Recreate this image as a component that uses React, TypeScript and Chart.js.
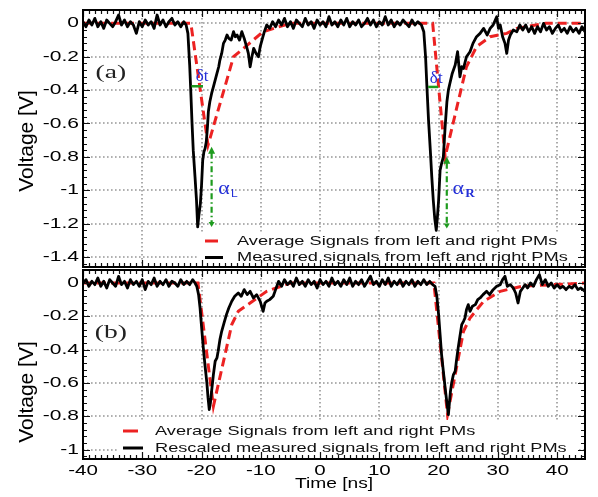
import React, { useEffect, useRef } from "react";
import { Chart, registerables } from "chart.js";

Chart.register(...registerables);

// ---------- data ----------
const X_MIN = -40;
const X_MAX = 44.7;
const X_TICKS = [-40, -30, -20, -10, 0, 10, 20, 30, 40];
const Y_TICKS_A = [0, -0.2, -0.4, -0.6, -0.8, -1, -1.2, -1.4];
const Y_TICKS_B = [0, -0.2, -0.4, -0.6, -0.8, -1];
const Y_RANGE_A = [-1.46, 0.08];
const Y_RANGE_B = [-1.057, 0.078];

const X_TITLE = "Time [ns]";
const Y_TITLE = "Voltage [V]";
const LEGEND_A = ["Average Signals from left and right PMs", "Measured signals from left and right PMs"];
const LEGEND_B = ["Average Signals from left and right PMs", "Rescaled measured signals from left and right PMs"];

// panel (a): measured signals [time ns, voltage V]
const measuredA: [number, number][] = [
  [-40, 0.01], [-39.5, -0.02], [-39, 0.02], [-38.5, -0.01], [-38, 0.03], [-37.5, -0.02], [-37, 0.01], [-36.5, -0.03],
  [-36, 0.02], [-35.5, 0.0], [-35, -0.02], [-34.5, 0.01], [-34, 0.05], [-33.5, -0.01], [-33, 0.02], [-32.5, -0.02],
  [-32, 0.01], [-31.5, -0.01], [-31, -0.06], [-30.5, 0.01], [-30, -0.02], [-29.5, 0.02], [-29, -0.01], [-28.5, 0.01],
  [-28, -0.03], [-27.5, 0.05], [-27, -0.01], [-26.5, 0.02], [-26, -0.02], [-25.5, 0.01], [-25, 0.03], [-24.5, -0.01],
  [-24, 0.01], [-23.5, -0.02], [-23, 0.01], [-22.6, -0.01],
  [-22.3, -0.06], [-22.0, -0.25], [-21.8, -0.42], [-21.6, -0.6], [-21.4, -0.76], [-21.1, -0.92], [-20.85, -1.06],
  [-20.65, -1.22], [-20.45, -1.15], [-20.2, -1.08], [-20.0, -0.97], [-19.8, -0.82], [-19.6, -0.77], [-19.4, -0.75],
  [-19.2, -0.71], [-19.0, -0.62], [-18.85, -0.53], [-18.6, -0.47], [-18.3, -0.42], [-18.0, -0.38], [-17.7, -0.34],
  [-17.4, -0.3], [-17.1, -0.26], [-16.9, -0.22], [-16.6, -0.18], [-16.3, -0.12], [-16.0, -0.1], [-15.7, -0.07],
  [-15.4, -0.09], [-15.0, -0.1], [-14.6, -0.05], [-14.3, -0.08], [-14.0, -0.07], [-13.6, -0.1], [-13.2, -0.05],
  [-12.8, -0.09], [-12.4, -0.14], [-12.1, -0.18], [-11.8, -0.26], [-11.5, -0.2], [-11.2, -0.15], [-10.8, -0.18],
  [-10.4, -0.2], [-10.1, -0.14], [-9.8, -0.1], [-9.4, -0.05], [-9.0, -0.01], [-8.5, -0.03], [-8.0, 0.01],
  [-7.5, -0.02], [-7, 0.02], [-6.5, -0.01], [-6, 0.03], [-5.5, -0.02], [-5, 0.01], [-4.5, -0.03], [-4, 0.02],
  [-3.5, 0.0], [-3, -0.02], [-2.5, 0.03], [-2, -0.01], [-1.5, 0.01], [-1, -0.03], [-0.5, 0.02], [0, -0.01],
  [0.5, 0.01], [1, -0.02], [1.5, 0.04], [2, -0.01], [2.5, 0.01], [3, -0.02], [3.5, 0.02], [4, -0.01],
  [4.5, 0.03], [5, -0.02], [5.5, 0.01], [6, -0.01], [6.5, 0.02], [7, -0.02], [7.5, 0.0], [8, 0.03],
  [8.5, -0.01], [9, 0.02], [9.5, -0.02], [10, 0.01], [10.5, -0.01], [11, 0.04], [11.5, -0.01], [12, 0.02],
  [12.5, -0.02], [13, 0.01], [13.5, -0.01], [14, 0.02], [14.5, 0.0], [15, -0.02], [15.5, 0.02], [16, -0.01],
  [16.5, 0.01], [17.1, -0.01],
  [17.5, -0.05], [17.8, -0.2], [18.0, -0.36], [18.3, -0.58], [18.6, -0.76], [18.85, -0.92], [19.1, -1.06],
  [19.35, -1.17], [19.6, -1.24], [19.8, -1.16], [20.0, -1.06], [20.25, -0.88], [20.5, -0.84], [20.8, -0.8],
  [21.1, -0.62], [21.4, -0.47], [21.65, -0.4], [21.9, -0.36], [22.3, -0.3], [22.8, -0.25], [23.2, -0.17],
  [23.6, -0.32], [23.9, -0.26], [24.2, -0.27], [24.7, -0.2], [25.3, -0.17], [25.8, -0.12], [26.4, -0.08],
  [27.0, -0.06], [27.6, -0.03], [28.2, -0.07], [28.7, -0.03], [29.2, -0.01], [29.8, 0.04], [30.1, -0.03],
  [30.4, -0.01], [30.8, -0.08], [31.2, -0.12], [31.5, -0.18], [31.8, -0.1], [32.1, -0.07], [32.6, -0.04],
  [33.2, -0.05], [33.7, -0.01], [34.2, -0.04], [34.7, -0.01], [35.2, -0.05], [35.7, -0.02], [36.2, -0.06],
  [36.7, -0.02], [37.2, -0.05], [37.7, 0.0], [38.2, -0.04], [38.7, -0.02], [39.2, -0.06], [39.7, -0.03],
  [40.2, -0.01], [40.7, -0.05], [41.2, -0.03], [41.7, -0.06], [42.2, -0.02], [42.7, -0.05], [43.2, -0.03],
  [43.7, -0.06], [44.2, -0.02], [44.7, -0.05],
];

// panel (a): average signals
const averageA: [number, number][] = [
  [-40, 0], [-21.8, 0], [-18.9, -0.73], [-14.6, -0.2], [-9.6, -0.05], [-5, 0], [19.0, 0], [21.1, -0.8],
  [24.7, -0.26], [26.4, -0.14], [28.7, -0.08], [31.5, -0.06], [33.2, -0.03], [38, 0], [44.7, 0],
];

// panel (b): rescaled measured signals
const measuredB: [number, number][] = [
  [-40, 0.0], [-39.5, 0.02], [-39, -0.02], [-38.5, 0.01], [-38, -0.01], [-37.5, 0.03], [-37, -0.02], [-36.5, 0.01],
  [-36, -0.03], [-35.5, 0.02], [-35, 0.0], [-34.5, -0.02], [-34, 0.04], [-33.5, -0.01], [-33, 0.01], [-32.5, -0.03],
  [-32, 0.02], [-31.5, -0.01], [-31, 0.01], [-30.5, -0.02], [-30, 0.02], [-29.5, -0.04], [-29, 0.01], [-28.5, -0.01],
  [-28, 0.03], [-27.5, -0.02], [-27, 0.01], [-26.5, -0.01], [-26, 0.02], [-25.5, -0.02], [-25, 0.01], [-24.5, 0.0],
  [-24, -0.02], [-23.5, 0.02], [-23, -0.01], [-22.5, 0.01], [-22, -0.01], [-21.5, 0.02], [-21.1, 0.0],
  [-20.8, -0.02], [-20.5, -0.07], [-20.25, -0.15], [-20.0, -0.26], [-19.7, -0.39], [-19.4, -0.5], [-19.1, -0.6],
  [-18.9, -0.69], [-18.7, -0.76], [-18.5, -0.72], [-18.3, -0.65], [-18.0, -0.55], [-17.7, -0.47], [-17.4, -0.45],
  [-17.2, -0.41], [-16.9, -0.34], [-16.6, -0.29], [-16.2, -0.24], [-15.8, -0.19], [-15.4, -0.15], [-14.9, -0.11],
  [-14.4, -0.08], [-13.8, -0.06], [-13.3, -0.08], [-12.8, -0.04], [-12.3, -0.07], [-11.8, -0.05], [-11.25, -0.09],
  [-10.7, -0.07], [-10.1, -0.11], [-9.6, -0.17], [-9.3, -0.12], [-9.0, -0.11], [-8.5, -0.1], [-7.9, -0.08],
  [-7.5, -0.04], [-7.0, 0.01], [-6.5, -0.02],
  [-6, 0.02], [-5.5, -0.01], [-5, 0.01], [-4.5, -0.02], [-4, 0.03], [-3.5, -0.01], [-3, 0.01], [-2.5, -0.02],
  [-2, 0.02], [-1.5, -0.01], [-1, 0.01], [-0.5, -0.03], [0, 0.02], [0.5, -0.01], [1, 0.01], [1.5, -0.02],
  [2, 0.03], [2.5, -0.01], [3, 0.01], [3.5, -0.02], [4, 0.02], [4.5, -0.01], [5, 0.03], [5.5, -0.02],
  [6, 0.01], [6.5, -0.01], [7, 0.02], [7.5, -0.02], [8, 0.01], [8.5, 0.04], [9, -0.01], [9.5, 0.01],
  [10, -0.02], [10.5, 0.02], [11, -0.01], [11.5, 0.03], [12, -0.02], [12.5, 0.01], [13, -0.01], [13.5, 0.02],
  [14, -0.02], [14.5, 0.01], [15, -0.01], [15.5, 0.02], [16, -0.02], [16.5, 0.01], [17, -0.01], [17.5, 0.02],
  [18, -0.01], [18.5, 0.01], [19, -0.01],
  [19.4, -0.02], [19.7, -0.08], [20.0, -0.19], [20.25, -0.31], [20.5, -0.43], [20.8, -0.53], [21.1, -0.63],
  [21.4, -0.72], [21.65, -0.79], [21.85, -0.71], [22.0, -0.65], [22.2, -0.6], [22.5, -0.55], [22.8, -0.53],
  [23.0, -0.47], [23.3, -0.39], [23.6, -0.32], [23.9, -0.25], [24.2, -0.23], [24.45, -0.21], [24.7, -0.16],
  [25.0, -0.13], [25.3, -0.17], [25.7, -0.14], [26.2, -0.13], [26.6, -0.1], [27.0, -0.09], [27.5, -0.07],
  [28.1, -0.05], [28.6, -0.07], [29.2, -0.04], [29.8, -0.02], [30.4, -0.01], [30.8, 0.02], [31.2, 0.04],
  [31.6, -0.02], [32.1, -0.01], [32.6, -0.03], [33.0, -0.06], [33.4, -0.12], [33.8, -0.05], [34.2, -0.03],
  [34.6, -0.01], [35.0, -0.03], [35.5, 0.0], [36.0, -0.02], [36.5, 0.02], [37.0, 0.05], [37.5, -0.01],
  [38.0, 0.02], [38.5, -0.02], [39.0, 0.0], [39.5, -0.03], [40.0, -0.01], [40.5, -0.03], [41.0, -0.02],
  [41.5, -0.04], [42.0, -0.02], [42.5, -0.03], [43.0, -0.01], [43.5, -0.04], [44.0, -0.03], [44.7, -0.05],
];

// panel (b): average signals
const averageB: [number, number][] = [
  [-40, 0], [-20.6, 0], [-18.0, -0.74], [-14.9, -0.25], [-13.8, -0.17], [-11.8, -0.12], [-9.0, -0.05], [-5, 0],
  [19.2, 0], [21.5, -0.79], [24.2, -0.29], [25.3, -0.21], [27.6, -0.11], [30.4, -0.05], [34, -0.02], [44.7, 0],
];

// annotation anchors (data coordinates)
const PANEL_LABEL_POS = { x: -35.3, y: -0.3 };
const DELTA_T_A = [
  { x1: -21.7, x2: -19.75, y: -0.377, lx: -19.9, ly: -0.32 },
  { x1: 18.23, x2: 19.92, y: -0.381, lx: 19.6, ly: -0.33 },
];
const ALPHA_A = [
  { x: -18.3, y1: -0.74, y2: -1.22, lx: -16.2, ly: -0.99, sub: "L" },
  { x: 21.38, y1: -0.8, y2: -1.23, lx: 23.3, ly: -0.99, sub: "R" },
];

// ---------- styling ----------
const RED = "#ec2222";
const GREEN = "#1e9b1e";
const BLUE = "#2430d8";
const SANS = "'Liberation Sans', Arial, sans-serif";
const SERIF = "'Liberation Serif', 'DejaVu Serif', serif";

function sText(ctx: CanvasRenderingContext2D, text: string, x: number, y: number, font: string, sx: number,
  align: CanvasTextAlign, baseline: CanvasTextBaseline, color = "#000") {
  ctx.save();
  ctx.translate(x, y);
  ctx.scale(sx, 1);
  ctx.font = font;
  ctx.fillStyle = color;
  ctx.textAlign = align;
  ctx.textBaseline = baseline;
  ctx.fillText(text, 0, 0);
  ctx.restore();
}

function makePlugin(panel: "a" | "b") {
  const isA = panel === "a";
  const yTicks = isA ? Y_TICKS_A : Y_TICKS_B;
  return {
    id: "frame_" + panel,
    beforeDatasetsDraw(chart: any) {
      // dotted grid at the tick values, positioned by the chart's scales
      const { ctx, chartArea: ca, scales } = chart;
      ctx.save();
      ctx.strokeStyle = "#979797";
      ctx.lineWidth = 1.6;
      ctx.setLineDash([1.6, 2.4]);
      ctx.beginPath();
      for (const v of X_TICKS) {
        const px = Math.round(scales.x.getPixelForValue(v));
        ctx.moveTo(px, ca.top);
        ctx.lineTo(px, ca.bottom);
      }
      for (const v of yTicks) {
        const py = Math.round(scales.y.getPixelForValue(v));
        ctx.moveTo(ca.left, py);
        ctx.lineTo(ca.right, py);
      }
      ctx.stroke();
      ctx.restore();
    },
    afterDraw(chart: any) {
      const { ctx, chartArea: ca, scales } = chart;
      const xs = scales.x;
      const ys = scales.y;
      ctx.save();

      // annotations (panel a)
      if (isA) {
        ctx.lineCap = "butt";
        for (const d of DELTA_T_A) {
          const yy = ys.getPixelForValue(d.y);
          ctx.strokeStyle = GREEN;
          ctx.lineWidth = 2.5;
          ctx.setLineDash([]);
          ctx.beginPath();
          ctx.moveTo(xs.getPixelForValue(d.x1), yy);
          ctx.lineTo(xs.getPixelForValue(d.x2), yy);
          ctx.stroke();
          sText(ctx, "δt", xs.getPixelForValue(d.lx), ys.getPixelForValue(d.ly), `17px ${SERIF}`, 1.0, "center", "middle", BLUE);
        }
        for (const a of ALPHA_A) {
          const px = xs.getPixelForValue(a.x);
          const p1 = ys.getPixelForValue(a.y1);
          const p2 = ys.getPixelForValue(a.y2);
          ctx.strokeStyle = GREEN;
          ctx.fillStyle = GREEN;
          ctx.lineWidth = 2.2;
          ctx.setLineDash([6, 3, 1.5, 3]);
          ctx.beginPath();
          ctx.moveTo(px, p1 + 6);
          ctx.lineTo(px, p2 - 4);
          ctx.stroke();
          ctx.setLineDash([]);
          ctx.beginPath();
          ctx.moveTo(px, p1);
          ctx.lineTo(px - 3.5, p1 + 7);
          ctx.lineTo(px + 3.5, p1 + 7);
          ctx.closePath();
          ctx.fill();
          ctx.beginPath();
          ctx.moveTo(px, p2);
          ctx.lineTo(px - 3, p2 - 5);
          ctx.lineTo(px + 3, p2 - 5);
          ctx.closePath();
          ctx.fill();
          const lx = xs.getPixelForValue(a.lx);
          const ly = ys.getPixelForValue(a.ly);
          sText(ctx, "α", lx, ly, `19px ${SERIF}`, 1.15, "center", "middle", BLUE);
          sText(ctx, a.sub, lx + 7, ly + 5, a.sub === "R" ? `bold 12px ${SERIF}` : `11px ${SANS}`, 1.1, "left", "middle", BLUE);
        }
      }

      // panel label
      sText(ctx, isA ? "(a)" : "(b)", xs.getPixelForValue(PANEL_LABEL_POS.x), ys.getPixelForValue(PANEL_LABEL_POS.y),
        `19px ${SERIF}`, 1.45, "center", "middle", "#222");

      // legend
      const lg = isA
        ? { x0: ca.left + 115, x1: ca.right - 5, top: ca.bottom - 35, s0: ca.left + 122, s1: ca.left + 137, tx: ca.left + 154, r1: ca.bottom - 26, r2: ca.bottom - 9.5 }
        : { x0: ca.left + 34, x1: ca.right - 7, top: ca.bottom - 39, s0: ca.left + 40, s1: ca.left + 57, tx: ca.left + 72, r1: ca.bottom - 28, r2: ca.bottom - 11 };
      const texts = isA ? LEGEND_A : LEGEND_B;
      ctx.fillStyle = "#fff";
      ctx.fillRect(lg.x0, lg.top, lg.x1 - lg.x0, ca.bottom - lg.top);
      ctx.lineWidth = 3;
      ctx.strokeStyle = RED;
      ctx.beginPath();
      ctx.moveTo(lg.s0, lg.r1);
      ctx.lineTo(lg.s1 - 2, lg.r1);
      ctx.stroke();
      ctx.strokeStyle = "#000";
      ctx.beginPath();
      ctx.moveTo(lg.s0, lg.r2);
      ctx.lineTo(lg.s1 + 3, lg.r2);
      ctx.stroke();
      sText(ctx, texts[0], lg.tx, lg.r1, `13px ${SANS}`, 1.4, "left", "middle", "#111");
      sText(ctx, texts[1], lg.tx, lg.r2, `13px ${SANS}`, 1.4, "left", "middle", "#111");

      // minor / major tick marks inside the frame
      ctx.strokeStyle = "#111";
      ctx.lineWidth = 1.2;
      ctx.beginPath();
      for (let v = -40; v <= X_MAX; v += 1) {
        const px = Math.round(xs.getPixelForValue(v)) + 0.5;
        const len = X_TICKS.includes(v) ? 7 : 4;
        ctx.moveTo(px, ca.top);
        ctx.lineTo(px, ca.top + len);
        ctx.moveTo(px, ca.bottom);
        ctx.lineTo(px, ca.bottom - len);
      }
      const yMin = isA ? Y_RANGE_A[0] : Y_RANGE_B[0];
      for (let k = 0; k * 0.04 <= -yMin; k++) {
        const v = -k * 0.04;
        const py = Math.round(ys.getPixelForValue(v)) + 0.5;
        const len = k % 5 === 0 ? 7 : 4;
        ctx.moveTo(ca.left, py);
        ctx.lineTo(ca.left + len, py);
        ctx.moveTo(ca.right, py);
        ctx.lineTo(ca.right - len, py);
      }
      ctx.stroke();

      // frame
      ctx.lineWidth = 2;
      ctx.strokeStyle = "#000";
      ctx.strokeRect(ca.left, ca.top, ca.right - ca.left, ca.bottom - ca.top);

      // y tick labels
      for (const v of yTicks) {
        sText(ctx, String(v), ca.left - 4, ys.getPixelForValue(v), `15px ${SANS}`, 1.4, "right", "middle", "#000");
      }
      // y title
      ctx.save();
      ctx.translate(33, isA ? 141 : 124);
      ctx.rotate(-Math.PI / 2);
      ctx.font = `21px ${SANS}`;
      ctx.fillStyle = "#000";
      ctx.textAlign = "center";
      ctx.textBaseline = "alphabetic";
      ctx.fillText(Y_TITLE, 0, 0);
      ctx.restore();

      // x tick labels + title (bottom panel)
      if (!isA) {
        for (const v of X_TICKS) {
          sText(ctx, String(v), xs.getPixelForValue(v), ca.bottom + 12, `15px ${SANS}`, 1.37, "center", "middle", "#000");
        }
        sText(ctx, X_TITLE, (ca.left + ca.right) / 2, ca.bottom + 29, `14px ${SANS}`, 1.37, "center", "alphabetic", "#000");
      }
      ctx.restore();
    },
  };
}

function makeConfig(panel: "a" | "b"): any {
  const isA = panel === "a";
  const measured = isA ? measuredA : measuredB;
  const average = isA ? averageA : averageB;
  const yr = isA ? Y_RANGE_A : Y_RANGE_B;
  const yTicks = isA ? Y_TICKS_A : Y_TICKS_B;
  return {
    type: "line",
    data: {
      datasets: [
        {
          label: (isA ? LEGEND_A : LEGEND_B)[1],
          data: measured.map(([x, y]) => ({ x, y })),
          borderColor: "#000",
          borderWidth: 2.8,
          borderJoinStyle: "round",
          pointRadius: 0,
          tension: 0,
          fill: false,
        },
        {
          label: (isA ? LEGEND_A : LEGEND_B)[0],
          data: average.map(([x, y]) => ({ x, y })),
          borderColor: RED,
          borderWidth: 3,
          borderDash: [9, 5],
          pointRadius: 0,
          tension: 0,
          fill: false,
        },
      ],
    },
    options: {
      animation: false,
      responsive: false,
      events: [],
      layout: { padding: { left: 0, right: 13, top: isA ? 10 : 2, bottom: 0 } },
      plugins: { legend: { display: false }, tooltip: { enabled: false }, title: { display: false } },
      scales: {
        x: {
          type: "linear",
          min: X_MIN,
          max: X_MAX,
          ticks: { display: false },
          grid: { display: false },
          border: { display: false },
          afterBuildTicks: (s: any) => { s.ticks = X_TICKS.map((v) => ({ value: v })); },
          afterFit: (s: any) => { s.height = isA ? 1 : 38; },
        },
        y: {
          type: "linear",
          min: yr[0],
          max: yr[1],
          ticks: { display: false },
          grid: { display: false },
          border: { display: false },
          afterBuildTicks: (s: any) => { s.ticks = yTicks.map((v) => ({ value: v })); },
          afterFit: (s: any) => { s.width = 83; },
        },
      },
    },
    plugins: [makePlugin(panel)],
  };
}

export default function App() {
  const refA = useRef<HTMLCanvasElement>(null);
  const refB = useRef<HTMLCanvasElement>(null);
  useEffect(() => {
    const a = new Chart(refA.current as HTMLCanvasElement, makeConfig("a"));
    const b = new Chart(refB.current as HTMLCanvasElement, makeConfig("b"));
    return () => {
      a.destroy();
      b.destroy();
    };
  }, []);
  return (
    <div style={{ position: "absolute", left: 0, top: 0, width: 598, height: 497, background: "#fff" }}>
      <canvas ref={refA} width={598} height={268} style={{ position: "absolute", left: 0, top: 0, width: 598, height: 268 }} />
      <canvas ref={refB} width={598} height={229} style={{ position: "absolute", left: 0, top: 268, width: 598, height: 229 }} />
    </div>
  );
}
